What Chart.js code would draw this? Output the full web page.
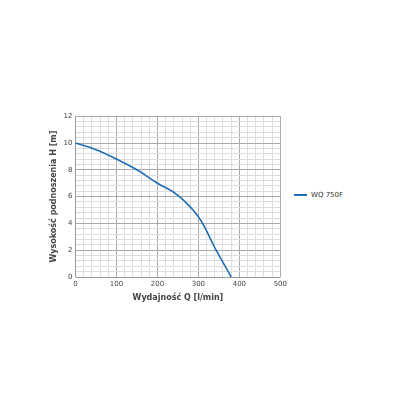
<!DOCTYPE html>
<html><head><meta charset="utf-8">
<script src="https://cdn.jsdelivr.net/npm/chart.js@4"></script>
<style>
body{margin:0;background:#fff}
#wrap{position:absolute;left:47px;top:109px;width:243px;height:196px}
#leg{position:absolute;left:294px;top:191px;font:7px 'DejaVu Sans';color:#333;display:flex;align-items:center}
#leg span{display:inline-block;width:13px;height:2px;background:#1f6fb4;margin-right:4px}
</style>
</head><body>
<div id="wrap"><canvas id="c"></canvas></div>
<div id="leg"><span></span><b style="font-weight:normal" id="legText"></b></div>
<script>
const flowQ = [0, 50, 100, 150, 200, 250, 300, 340, 380];
const headH = [10, 9.5, 8.8, 8.0, 7.0, 6.1, 4.5, 2.2, 0];
const seriesName = 'WQ 750F';
document.getElementById('legText').textContent = seriesName;

const font = { family: 'DejaVu Sans', size: 7 };
new Chart(document.getElementById('c'), {
  type: 'line',
  data: { datasets: [{ label: seriesName, data: flowQ.map((q, i) => ({ x: q, y: headH[i] })),
    borderColor: '#1f6fb4', borderWidth: 1.6, pointRadius: 0, tension: 0.4, fill: false }] },
  options: {
    responsive: true, maintainAspectRatio: false, animation: false,
    layout: { padding: { right: 6 } },
    plugins: { legend: { display: false } },
    scales: {
      x: { type: 'linear', min: 0, max: 500,
        ticks: { stepSize: 20, autoSkip: false, maxRotation: 0, font, color: '#444', callback: v => v % 100 === 0 ? v : '' },
        grid: { color: c => c.tick.value % 100 === 0 ? '#aaa' : '#ddd', drawTicks: false },
        title: { display: true, text: 'Wydajność Q [l/min]', font: { family: 'DejaVu Sans', size: 8, weight: 'bold' }, color: '#444', padding: 2 } },
      y: { min: 0, max: 12,
        ticks: { stepSize: 0.4, autoSkip: false, font, color: '#444', callback: v => { const r = Math.round(v * 10) / 10; return r % 2 === 0 ? r : ''; } },
        grid: { color: c => (Math.round(c.tick.value * 10) / 10) % 2 === 0 ? '#aaa' : '#ddd', drawTicks: false },
        title: { display: true, text: 'Wysokość podnoszenia H [m]', font: { family: 'DejaVu Sans', size: 8, weight: 'bold' }, color: '#444', padding: 2 } }
    }
  }
});
</script>
</body></html>
